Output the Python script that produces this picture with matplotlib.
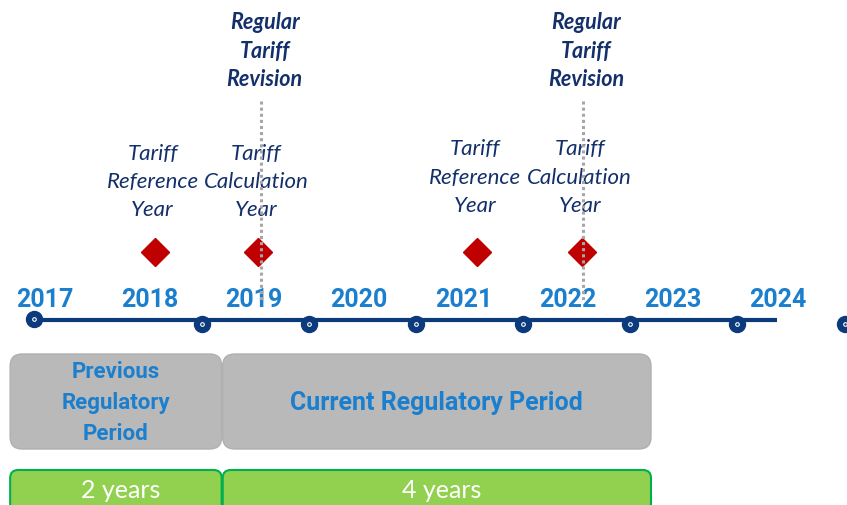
import matplotlib
matplotlib.use("Agg")
import matplotlib.pyplot as plt
from matplotlib.patches import FancyBboxPatch

# ---- data ----
years = [2017, 2018, 2019, 2020, 2021, 2022, 2023, 2024]
year_labels = ["2017", "2018", "2019", "2020", "2021", "2022", "2023", "2024"]
boundaries = [2016.90, 2018.50, 2019.52, 2020.55, 2021.57, 2022.59, 2023.61, 2024.64]
timeline_start = 2016.90
timeline_end = 2023.99
event_x = [2018.05, 2019.04, 2021.13, 2022.13]
event_labels = ["Tariff\nReference\nYear", "Tariff\nCalculation\nYear",
                "Tariff\nReference\nYear", "Tariff\nCalculation\nYear"]
revision_x = [2019.07, 2022.14]
revision_label = "Regular\nTariff\nRevision"
period_labels = ["Previous\nRegulatory\nPeriod", "Current Regulatory Period"]
period_start = [2016.67, 2018.70]
period_end = [2018.69, 2022.79]
period_years = ["2 years", "4 years"]

# ---- styles ----
NAVY = "#0b3a7d"
TXT_NAVY = "#14306b"
BLUE = "#1b7fce"
RED = "#c00000"
GREY = "#b9b9b9"
GREEN = "#92d050"
GREEN_EDGE = "#00b050"

fig = plt.figure(figsize=(8.47, 5.06), dpi=100)
ax = fig.add_axes([0, 0, 1, 1])
x0, x1 = 2016.573, 2024.662
ax.set_xlim(x0, x1)
ax.set_ylim(506, 0)
ax.axis("off")
px_per_year = 847 / (x1 - x0)

# timeline
ax.plot([timeline_start, timeline_end], [321, 321], color=NAVY, lw=3, solid_capstyle="butt", zorder=2)
for i, b in enumerate(boundaries):
    yy = 320 if i == 0 else 324.5
    ax.plot([b], [yy], marker="o", ms=11.5, color=NAVY, mec=NAVY, zorder=3, clip_on=False)
    ax.plot([b], [yy], marker="o", ms=2.6, mfc=NAVY, mec="white", mew=0.8, zorder=4, clip_on=False)

# year labels
for y, lab in zip(years, year_labels):
    ax.text(y, 300, lab, ha="center", va="center", fontsize=18, fontweight="bold",
            family="Roboto", color=BLUE, zorder=3)

# event diamonds and labels
for i, (ex, lab) in enumerate(zip(event_x, event_labels)):
    ax.plot([ex], [253], marker="D", ms=14, color=RED, mec=RED, zorder=3)
    cy = 182 if i < 2 else 177.5
    ax.text(ex - 0.02, cy, lab, ha="center", va="center", fontsize=16, style="italic",
            family="Lato", color=TXT_NAVY, linespacing=1.52, zorder=3)

# revisions
for rx in revision_x:
    ax.plot([rx, rx], [102, 302], color="#a6a6a6", lw=2.2, ls=(0, (1, 1)), zorder=5)
    ax.text(rx + 0.03, 51, revision_label, ha="center", va="center", fontsize=15.5,
            style="italic", fontweight="bold", family="Lato", color=TXT_NAVY,
            linespacing=1.42, zorder=3)

# period boxes
period_fs = [16, 18]
for s, e, lab, fs in zip(period_start, period_end, period_labels, period_fs):
    box = FancyBboxPatch((s, 355), e - s, 95,
                         boxstyle=f"round,pad=0,rounding_size={12 / px_per_year}",
                         mutation_aspect=px_per_year, fc=GREY, ec="#b0b0b0", lw=1, zorder=2)
    ax.add_patch(box)
    ax.text((s + e) / 2, 403, lab, ha="center", va="center", fontsize=fs, fontweight="bold",
            family="Roboto", color=BLUE, linespacing=1.55, zorder=3)

# duration boxes
for s, e, lab in zip(period_start, period_end, period_years):
    box = FancyBboxPatch((s, 471), e - s, 60,
                         boxstyle=f"round,pad=0,rounding_size={8 / px_per_year}",
                         mutation_aspect=px_per_year, fc=GREEN, ec=GREEN_EDGE, lw=1.5, zorder=2)
    ax.add_patch(box)
    ax.text((s + e) / 2 + 0.05, 491, lab, ha="center", va="center", fontsize=18,
            family="Lato", color="white", zorder=3)

fig.savefig("out.png", dpi=100)
